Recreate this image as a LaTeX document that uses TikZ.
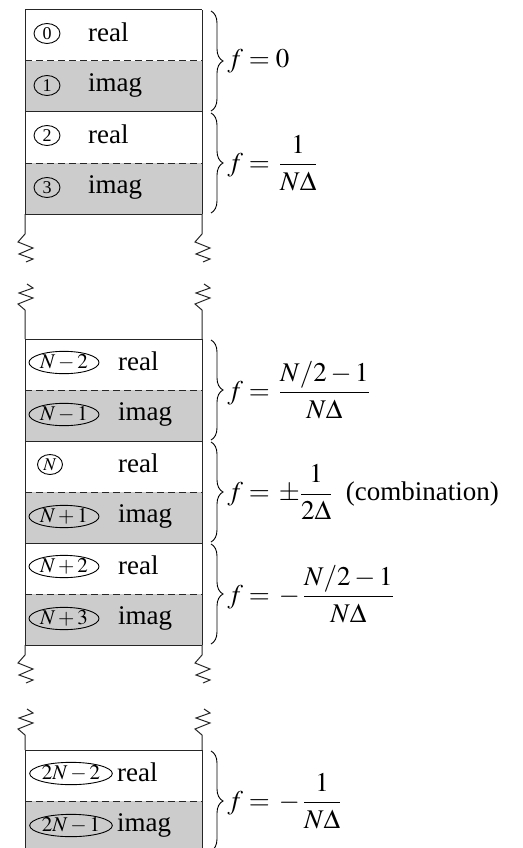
\documentclass[tikz,border=0pt]{standalone}
\usepackage{amsmath}
\usepackage{mathptmx}
\usepackage{fontspec}
\setmainfont{Liberation Serif}
\usetikzlibrary{positioning,shapes.geometric,decorations.pathreplacing,calc}

\begin{document}
\begin{tikzpicture}[
  x=1pt, y=-1pt,
  cell/.style={minimum width=177pt, minimum height=51pt, inner sep=0pt, outer sep=0pt},
  re/.style={cell, fill=white},
  im/.style={cell, fill=gray!40},
  tag/.style={draw, ellipse, line width=0.9pt, inner sep=0pt,
              minimum width=26pt, minimum height=20pt, font=\fontsize{18}{18}\selectfont},
  ntag/.style={tag, minimum width=70pt, minimum height=19pt, font=\fontsize{21}{21}\selectfont},
  word/.style={anchor=base west, inner sep=0pt, font=\fontsize{27}{30}\selectfont},
  rule/.style={line width=1pt, draw=black!85},
  half/.style={rule, dash pattern=on 7pt off 4pt},
  brace/.style={decorate, decoration={brace, amplitude=12pt}, line width=0.9pt},
  flab/.style={midway, anchor=west, xshift=15pt, inner sep=1pt, font=\fontsize{27}{30}\selectfont},
  cutdown/.pic={\draw[rule] (0,0) -- (0,#1) -- ++(-7,8) -- ++(15,6) -- ++(-14,6) -- ++(14,5) -- ++(-7,3);},
  cutup/.pic={\draw[rule] (0,0) -- (0,-#1) -- ++(-7,-6) -- ++(15,-6) -- ++(-14,-5) -- ++(14,-5) -- ++(-6,-4);}
]
  \useasboundingbox (0,0) rectangle (522,848);

  % cells
  \node[re, anchor=north west] (c0) at (25,10) {};
  \node[im, below=0pt of c0] (c1) {};
  \node[re, below=0pt of c1] (c2) {};
  \node[im, below=0pt of c2] (c3) {};

  \node[re, anchor=north west] (cN2) at (25,339) {};
  \node[im, below=0pt of cN2]  (cN1)  {};
  \node[re, below=0pt of cN1]  (cN)   {};
  \node[im, below=0pt of cN]   (cN1p) {};
  \node[re, below=0pt of cN1p] (cN2p) {};
  \node[im, below=0pt of cN2p] (cN3p) {};

  \node[re, anchor=north west] (c2N2) at (25,750) {};
  \node[im, below=0pt of c2N2] (c2N1) {};

  % outline and separators
  \draw[rule] (c0.north west) -- (c3.south west) (c0.north east) -- (c3.south east);
  \draw[rule] (cN2.north west) -- (cN3p.south west) (cN2.north east) -- (cN3p.south east);
  \draw[rule] (c2N2.north west) -- (c2N1.south west) (c2N2.north east) -- (c2N1.south east);
  \foreach \c in {c0,c2,cN2,cN,cN2p,c2N2}
    \draw[rule] (\c.north west) -- (\c.north east);
  \foreach \c in {c3,cN3p}
    \draw[rule] (\c.south west) -- (\c.south east);
  \foreach \c in {c1,c3,cN1,cN1p,cN3p,c2N1}
    \draw[half] (\c.north west) -- (\c.north east);

  % breaks
  \pic at (c3.south west) {cutdown=20};
  \pic at (c3.south east) {cutdown=20};
  \pic at (cN2.north west) {cutup=29};
  \pic at (cN2.north east) {cutup=29};
  \pic at (cN3p.south west) {cutdown=10};
  \pic at (cN3p.south east) {cutdown=10};
  \pic at (c2N2.north west) {cutup=15};
  \pic at (c2N2.north east) {cutup=15};

  % indices and words
  \node[tag] (t0) at ($(c0.west)+(22,-2)$) {0};
  \node[tag] (t1) at ($(c1.west)+(22,-1)$) {1};
  \node[tag] (t2) at ($(c2.west)+(22,-2)$) {2};
  \node[tag] (t3) at ($(c3.west)+(22,-1)$) {3};
  \node[word] (w0) at ($(c0.west)+(63,6)$) {real};
  \node[word] (w1) at ($(c1.west)+(63,5)$) {imag};
  \node[word] (w2) at ($(c2.west)+(63,6)$) {real};
  \node[word] (w3) at ($(c3.west)+(63,5)$) {imag};

  \node[ntag] (tN2)  at ($(cN2.west)+(39,-2)$)  {$N-2$};
  \node[ntag] (tN1)  at ($(cN1.west)+(39,-1)$)  {$N-1$};
  \node[tag, minimum width=25pt, minimum height=20pt] (tN) at ($(cN.west)+(25,-2)$) {\fontsize{18}{18}\selectfont$N$};
  \node[ntag] (tN1p) at ($(cN1p.west)+(39,-1)$) {$N+1$};
  \node[ntag] (tN2p) at ($(cN2p.west)+(39,-2)$) {$N+2$};
  \node[ntag] (tN3p) at ($(cN3p.west)+(39,-1)$) {$N+3$};
  \node[word] (wN2)  at ($(cN2.west)+(93,6)$)  {real};
  \node[word] (wN1)  at ($(cN1.west)+(93,5)$)  {imag};
  \node[word] (wN)   at ($(cN.west)+(93,6)$)   {real};
  \node[word] (wN1p) at ($(cN1p.west)+(93,5)$) {imag};
  \node[word] (wN2p) at ($(cN2p.west)+(93,6)$) {real};
  \node[word] (wN3p) at ($(cN3p.west)+(93,5)$) {imag};

  \node[ntag, minimum width=72pt] (t2N2) at ($(c2N2.west)+(46,-2)$) {$2N-2$};
  \node[ntag, minimum width=72pt] (t2N1) at ($(c2N1.west)+(46,-1)$) {$2N-1$};
  \node[word] (w2N2) at ($(c2N2.west)+(92,6)$) {real};
  \node[word] (w2N1) at ($(c2N1.west)+(92,5)$) {imag};

  % frequency braces
  \draw[brace] ([shift={(9,1)}]c0.north east) -- ([shift={(9,-1)}]c1.south east)
    node[flab] (f0) {$f=0$};
  \draw[brace] ([shift={(9,1)}]c2.north east) -- ([shift={(9,-1)}]c3.south east)
    node[flab] (f1) {$f=\,\dfrac{1}{N\Delta}$};
  \draw[brace] ([shift={(9,1)}]cN2.north east) -- ([shift={(9,-1)}]cN1.south east)
    node[flab] (fN2) {$f=\,\dfrac{N/2-1}{N\Delta}$};
  \draw[brace] ([shift={(9,1)}]cN.north east) -- ([shift={(9,-1)}]cN1p.south east)
    node[flab] (fN) {$f=\,\pm\dfrac{1}{2\Delta}$\enspace(combination)};
  \draw[brace] ([shift={(9,1)}]cN2p.north east) -- ([shift={(9,-1)}]cN3p.south east)
    node[flab] (fN2p) {$f=\,-\,\dfrac{N/2-1}{N\Delta}$};
  \draw[brace] ([shift={(9,1)}]c2N2.north east) -- ([shift={(9,-1)}]c2N1.south east)
    node[flab] (f2N) {$f=\,-\,\dfrac{1}{N\Delta}$};
\end{tikzpicture}
\end{document}
